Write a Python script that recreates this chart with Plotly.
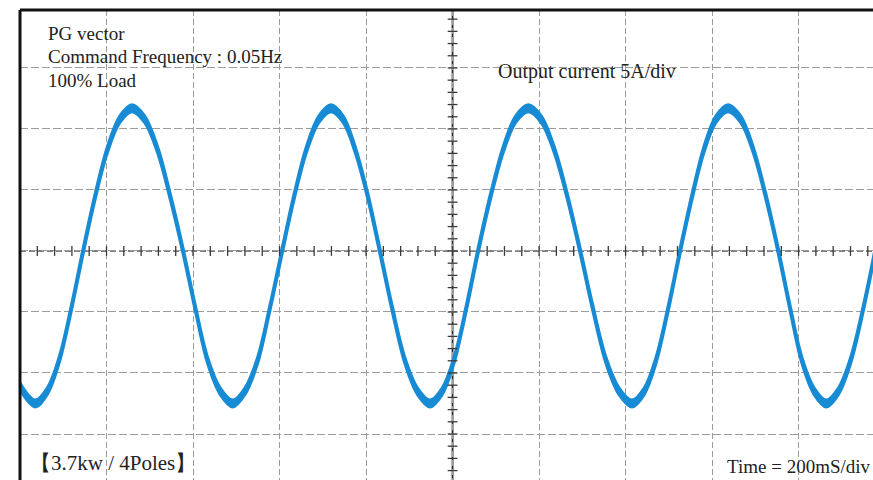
import plotly.graph_objects as go

# Oscilloscope trace: time in ms (200 ms/div), current in A (5 A/div)
time_ms = [0, 35, 63, 90, 118, 146, 174, 202, 231, 259, 288, 318, 347, 377, 406, 434, 463,
           492, 520, 549, 577, 606, 634, 662, 691, 719, 747, 775, 804, 832, 861, 890, 919,
           948, 976, 1003, 1031, 1059, 1088, 1117, 1146, 1175, 1205, 1235, 1265, 1295,
           1325, 1355, 1385, 1415, 1443, 1470, 1498, 1526, 1554, 1581, 1609, 1637, 1666,
           1695, 1724, 1753, 1781, 1808, 1836, 1864, 1892, 1920, 1949, 1977]
current_a = [-11.1, -12.5, -11.5, -9.0, -4.8, 0.0, 4.5, 8.3, 10.8, 11.7, 10.8, 8.3, 4.5,
             0.0, -4.8, -9.0, -11.5, -12.5, -11.5, -9.0, -4.8, 0.0, 4.5, 8.3, 10.8, 11.7,
             10.8, 8.3, 4.5, 0.0, -4.8, -9.0, -11.5, -12.5, -11.5, -9.0, -4.8, 0.0, 4.5,
             8.3, 10.8, 11.7, 10.8, 8.3, 4.5, 0.0, -4.8, -9.0, -11.5, -12.5, -11.5, -9.0,
             -4.8, 0.0, 4.5, 8.3, 10.8, 11.7, 10.8, 8.3, 4.5, 0.0, -4.8, -9.0, -11.5,
             -12.5, -11.5, -9.0, -4.8, 0.0]

time_per_div = 200
amp_per_div = 5
x_range = [0, 1972]
y_range = [-18.77, 19.75]

info_lines = ["PG vector", "Command Frequency : 0.05Hz", "100% Load"]
channel_label = "Output current 5A/div"
motor_label = "【3.7kw / 4Poles】"
time_label = "Time = 200mS/div"

WAVE = "#178BD4"
BAND = 0.3  # visual thickness of the noisy trace band (A)

fig = go.Figure()

# noisy trace drawn as a thin band
lower = [v - BAND for v in current_a]
upper = [v + BAND for v in current_a]
fig.add_trace(go.Scatter(x=time_ms, y=lower, mode="lines",
                         line=dict(color=WAVE, width=2.6, shape="spline", smoothing=1.0),
                         hoverinfo="skip", showlegend=False))
fig.add_trace(go.Scatter(x=time_ms, y=upper, mode="lines", fill="tonexty",
                         fillcolor=WAVE,
                         line=dict(color=WAVE, width=2.6, shape="spline", smoothing=1.0),
                         showlegend=False))

# centre cross-hair minor ticks (5 per division)
center_t = 5 * time_per_div
vt_y = [k * amp_per_div / 5 for k in range(-100, 101)
        if y_range[0] <= k * amp_per_div / 5 <= y_range[1]]
ht_x = [k * time_per_div / 5 for k in range(0, 100)
        if x_range[0] < k * time_per_div / 5 <= x_range[1]]
fig.add_trace(go.Scatter(x=[center_t] * len(vt_y), y=vt_y, mode="markers",
                         marker=dict(symbol="line-ew", size=7,
                                     line=dict(color="#3a3a3a", width=1.3)),
                         hoverinfo="skip", showlegend=False))
fig.add_trace(go.Scatter(x=ht_x, y=[0] * len(ht_x), mode="markers",
                         marker=dict(symbol="line-ns", size=7,
                                     line=dict(color="#3a3a3a", width=1.3)),
                         hoverinfo="skip", showlegend=False))

# centre lines
fig.add_shape(type="line", xref="x", yref="paper", x0=center_t, x1=center_t, y0=0, y1=1,
              line=dict(color="#2a2a2a", width=1.8), layer="below")
fig.add_shape(type="line", xref="paper", yref="y", x0=0, x1=1, y0=0, y1=0,
              line=dict(color="#555555", width=1.3, dash="6px,3px"), layer="below")
# frame (left and top)
fig.add_shape(type="line", xref="paper", yref="paper", x0=0, x1=0, y0=0, y1=1,
              line=dict(color="#111111", width=3))
fig.add_shape(type="line", xref="paper", yref="paper", x0=0, x1=1, y0=1, y1=1,
              line=dict(color="#111111", width=3))

FONT = "Liberation Serif, Times New Roman, serif"
TXT = "#222222"
PLOT_H = 470
PLOT_W = 853
for i, t in enumerate(info_lines):
    fig.add_annotation(text=t, xref="paper", yref="paper", x=(46 - 20) / PLOT_W,
                       y=1 - (23 + 23.5 * i) / PLOT_H,
                       xanchor="left", yanchor="middle", showarrow=False,
                       font=dict(family=FONT, size=19, color=TXT))
fig.add_annotation(text=channel_label, xref="paper", yref="paper", x=(496 - 20) / PLOT_W,
                   y=1 - 62 / PLOT_H, xanchor="left", yanchor="middle", showarrow=False,
                   font=dict(family=FONT, size=20, color=TXT))
fig.add_annotation(text=motor_label, xref="paper", yref="paper", x=(28 - 20) / PLOT_W,
                   y=1 - 453 / PLOT_H, xanchor="left", yanchor="middle", showarrow=False,
                   font=dict(family=FONT, size=21, color=TXT))
fig.add_annotation(text=time_label, xref="paper", yref="paper", x=1.0,
                   y=1 - 456 / PLOT_H, xanchor="right", yanchor="middle", showarrow=False,
                   font=dict(family=FONT, size=19, color=TXT))

fig.update_xaxes(range=x_range, dtick=time_per_div, tick0=0, showgrid=True,
                 gridcolor="#9c9c9c", gridwidth=1, griddash="6px,3px", zeroline=False,
                 showticklabels=False, ticks="", showline=False, fixedrange=True)
fig.update_yaxes(range=y_range, dtick=amp_per_div, tick0=0, showgrid=True,
                 gridcolor="#9c9c9c", gridwidth=1, griddash="8px,3px", zeroline=False,
                 showticklabels=False, ticks="", showline=False, fixedrange=True)
fig.update_layout(width=873, height=480, margin=dict(l=20, r=0, t=10, b=0),
                  paper_bgcolor="white", plot_bgcolor="white", showlegend=False)

# remove the default 8px page margin so the 873x480 figure fills the window exactly
fig.write_html("out.html", config={"displayModeBar": False},
               post_script="document.body.style.margin='0px';document.documentElement.style.overflow='hidden';")
